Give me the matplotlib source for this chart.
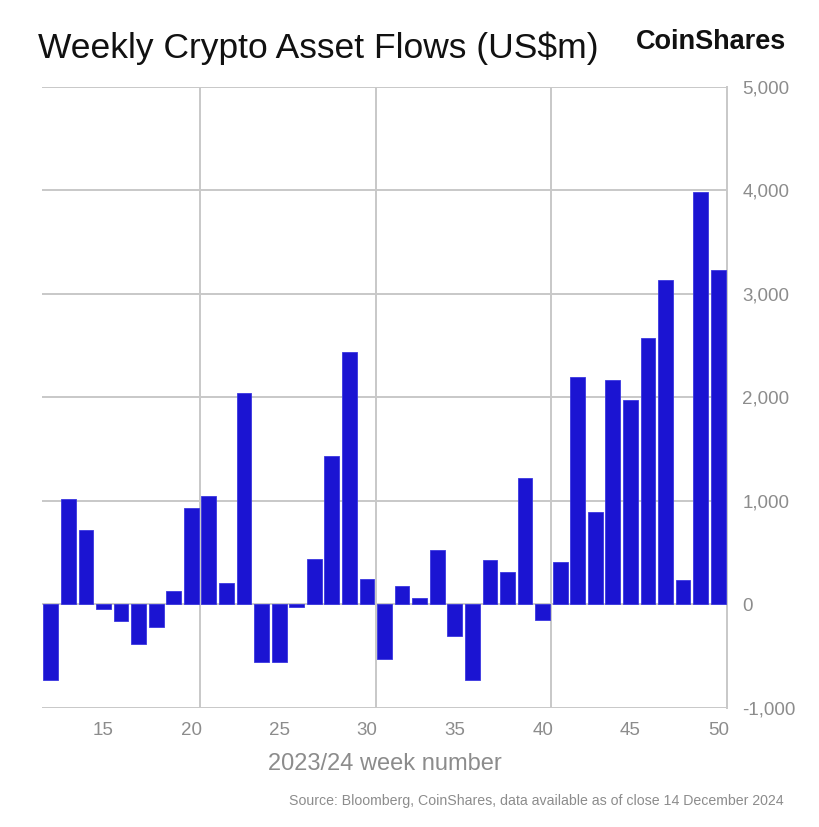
import matplotlib
matplotlib.use("Agg")
import matplotlib.pyplot as plt
from matplotlib.ticker import FuncFormatter, FixedLocator

# weekly flows, US$m
weeks = list(range(12, 51))
flows = [
    -733, 1023, 724, -40, -155, -386, -222, 135, 936, 1052,
    212, 2046, -560, -560, -20, 444, 1438, 2442, 251, -530,
    174, 58, 531, -300, -733, 434, 318, 1226, -145, 415,
    2200, 898, 2172, 1979, 2577, 3137, 241, 3986, 3234,
]
x_ticks = [15, 20, 25, 30, 35, 40, 45, 50]
y_ticks = [-1000, 0, 1000, 2000, 3000, 4000, 5000]
v_grid = [20.5, 30.5, 40.5]

bar_color = "#1B14D2"
grid_color = "#C8C8C8"
label_color = "#8C8C8C"

plt.rcParams["font.family"] = ["Liberation Sans", "DejaVu Sans"]

fig = plt.figure(figsize=(8.19, 8.27), dpi=100)
ax = fig.add_axes([0.0513, 0.1439, 0.8364, 0.7509])

ax.bar(weeks, flows, width=0.84, color=bar_color, edgecolor="#3a36e0",
       linewidth=0.6, zorder=3)

ax.set_xlim(11.5, 50.5)
ax.set_ylim(-1000, 5000)

# gridlines
for y in y_ticks:
    ax.axhline(y, color=grid_color, lw=1.4, zorder=1)
for x in v_grid:
    ax.axvline(x, color=grid_color, lw=1.4, zorder=1)

for s in ["left", "top", "bottom"]:
    ax.spines[s].set_visible(False)
ax.spines["right"].set_color(grid_color)
ax.spines["right"].set_linewidth(1.4)

ax.yaxis.tick_right()
ax.yaxis.set_major_locator(FixedLocator(y_ticks))
ax.yaxis.set_major_formatter(FuncFormatter(lambda v, p: f"{int(v):,}"))
ax.xaxis.set_major_locator(FixedLocator(x_ticks))
ax.tick_params(axis="both", length=0, labelsize=13.5, colors=label_color)
ax.tick_params(axis="y", pad=11)
ax.tick_params(axis="x", pad=10)

ax.set_xlabel("2023/24 week number", fontsize=17, color=label_color, labelpad=10)

fig.text(0.046, 0.942, "Weekly Crypto Asset Flows (US$m)", fontsize=25.5,
         color="#111111", va="center", ha="left")
fig.text(0.96, 0.949, "CoinShares", fontsize=19.5, fontweight="bold",
         color="#111111", va="center", ha="right")
fig.text(0.957, 0.031, "Source: Bloomberg, CoinShares, data available as of close 14 December 2024",
         fontsize=10.2, color=label_color, ha="right", va="center")

fig.savefig("out.png", dpi=100, facecolor="white")
